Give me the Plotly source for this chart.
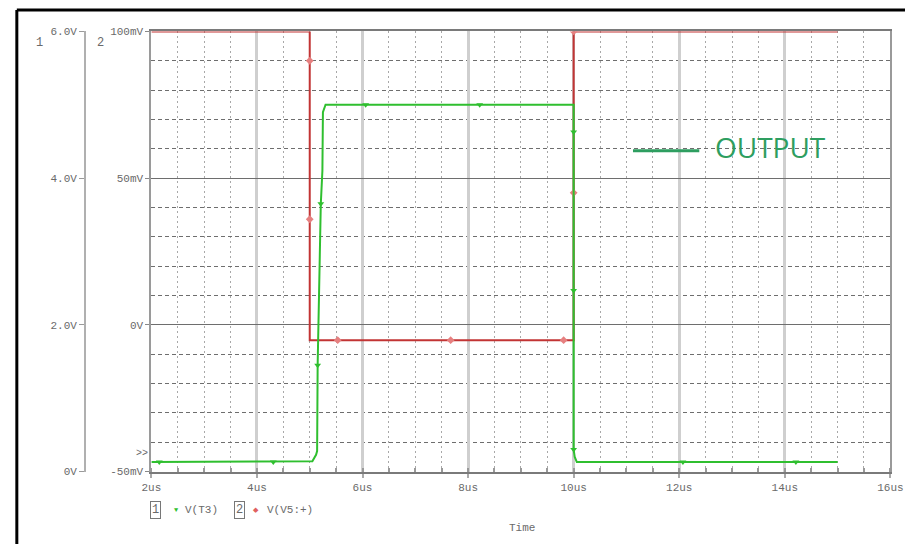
import plotly.graph_objects as go

W, H = 918, 551

# V(T3): output node, volts on axis 1
t3_time = [2.0, 5.0, 5.05, 5.12, 5.14, 5.15, 5.18, 5.21, 5.24, 5.25, 5.30, 10.0, 10.0, 10.02, 10.06, 15.0]
t3_volts = [0.13, 0.13, 0.14, 0.23, 0.28, 1.45, 2.35, 3.65, 4.10, 4.90, 5.00, 5.00, 0.30, 0.20, 0.13, 0.13]

# V(V5:+): source, millivolts on axis 2
v5_time = [2.0, 5.0, 5.0, 10.0, 10.0, 15.0]
v5_mv = [100, 100, -5.2, -5.2, 100, 100]

# trace symbols placed along each waveform
t3_mark_time = [2.15, 4.31, 5.15, 5.21, 6.06, 8.22, 10.0, 10.0, 10.0, 12.07, 14.21]
t3_mark_volts = [0.13, 0.13, 1.45, 3.65, 5.0, 5.0, 4.63, 2.47, 0.30, 0.13, 0.13]
v5_mark_time = [5.0, 5.0, 5.53, 7.67, 9.81, 10.0, 10.0]
v5_mark_mv = [90, 36, -5.2, -5.2, -5.2, 45, 100]

x_ticks = [2, 4, 6, 8, 10, 12, 14, 16]
x_tick_labels = ["2us", "4us", "6us", "8us", "10us", "12us", "14us", "16us"]
v_ticks = [0, 2, 4, 6]
v_tick_labels = ["0V", "2.0V", "4.0V", "6.0V"]
mv_ticks = [-50, 0, 50, 100]
mv_tick_labels = ["-50mV", "0V", "50mV", "100mV"]

GREEN = "#2fbf2f"
RED = "#c23434"
TXT = "#6a6a6a"
MONO = "Liberation Mono"


def px(x):
    return x / W


def py(y):
    return 1 - y / H


fig = go.Figure()

fig.add_trace(go.Scatter(x=t3_time, y=t3_volts, yaxis="y2", mode="lines",
                         line=dict(color=GREEN, width=2), hoverinfo="skip"))
fig.add_trace(go.Scatter(x=v5_time, y=v5_mv, yaxis="y", mode="lines",
                         line=dict(color=RED, width=2), hoverinfo="skip"))
fig.add_trace(go.Scatter(x=t3_mark_time, y=t3_mark_volts, yaxis="y2", mode="markers",
                         marker=dict(symbol="triangle-down", size=6, color=GREEN),
                         hoverinfo="skip"))
fig.add_trace(go.Scatter(x=v5_mark_time, y=v5_mark_mv, yaxis="y", mode="markers",
                         marker=dict(symbol="diamond", size=6, color="#e68080"),
                         hoverinfo="skip"))

tickfont = dict(family=MONO, size=11, color=TXT)

fig.update_layout(
    width=W, height=H, autosize=False,
    margin=dict(l=0, r=0, t=0, b=0),
    paper_bgcolor="white", plot_bgcolor="white",
    showlegend=False,
    xaxis=dict(
        domain=[px(145), px(903)], range=[2, 16], anchor="y",
        tickmode="array", tickvals=x_ticks, ticktext=x_tick_labels,
        tickfont=tickfont, ticks="outside", ticklen=4, tickcolor="#aaaaaa", tickwidth=2,
        showgrid=True, gridcolor="#cfcfcf", gridwidth=3,
        minor=dict(tick0=0, dtick=0.5, showgrid=True, gridcolor="#a8a8a8", gridwidth=1,
                   griddash="2px,3px", ticks="inside", ticklen=4, tickcolor="#999999"),
        showline=True, linecolor="#7a7a7a", linewidth=2, mirror=True, zeroline=False,
    ),
    yaxis=dict(
        domain=[py(477), py(27)], range=[-50, 100], anchor="x",
        tickmode="array", tickvals=mv_ticks, ticktext=mv_tick_labels,
        tickfont=tickfont, ticks="outside", ticklen=4, tickcolor="#888888",
        showgrid=True, gridcolor="#6e6e6e", gridwidth=1,
        minor=dict(tick0=0, dtick=10, showgrid=True, gridcolor="#6e6e6e", gridwidth=1,
                   griddash="4px,3px"),
        showline=True, linecolor="#9a9a9a", linewidth=2, mirror=True, zeroline=False,
    ),
    yaxis2=dict(
        overlaying="y", anchor="free", position=px(77), side="left",
        range=[0, 6], tickmode="array", tickvals=v_ticks, ticktext=v_tick_labels,
        tickfont=tickfont, ticks="outside", ticklen=5, tickcolor="#9a9a9a",
        showgrid=False, zeroline=False,
        showline=True, linecolor="#b0b0b0", linewidth=2,
    ),
)

shapes = [
    # window frame
    dict(type="line", xref="paper", yref="paper", x0=px(7), x1=px(7), y0=0, y1=py(5),
         line=dict(color="black", width=3)),
    dict(type="line", xref="paper", yref="paper", x0=px(7), x1=1, y0=py(5), y1=py(5),
         line=dict(color="black", width=3)),
    # OUTPUT label swatch
    dict(type="line", xref="paper", yref="paper", x0=px(639), x1=px(707), y0=py(149), y1=py(149),
         line=dict(color="#2e9e60", width=3)),
]

annotations = []


def note(x, y, text, size=11, color=TXT, family=MONO, xanchor="center", **kw):
    annotations.append(dict(xref="paper", yref="paper", x=px(x), y=py(y), text=text,
                            showarrow=False, xanchor=xanchor, yanchor="middle",
                            font=dict(family=family, size=size, color=color), **kw))


note(30, 39, "1", size=12)
note(93, 39, "2", size=12)
note(135, 458, ">>", size=10)
note(149, 516, "1", size=12, bordercolor="#777777", borderwidth=1, borderpad=1)
note(171, 516, "▼", size=7, color=GREEN)
note(196, 516, "V(T3)")
note(235, 516, "2", size=12, bordercolor="#777777", borderwidth=1, borderpad=1)
note(252, 516, "◆", size=7, color="#e06060")
note(287, 516, "V(V5:+)")
note(525, 535, "Time")
note(721, 145, "OUTPUT", size=28, color="#2e9e60", family="Open Sans", xanchor="left")

fig.update_layout(shapes=shapes, annotations=annotations)

fig.write_html("out.html")
